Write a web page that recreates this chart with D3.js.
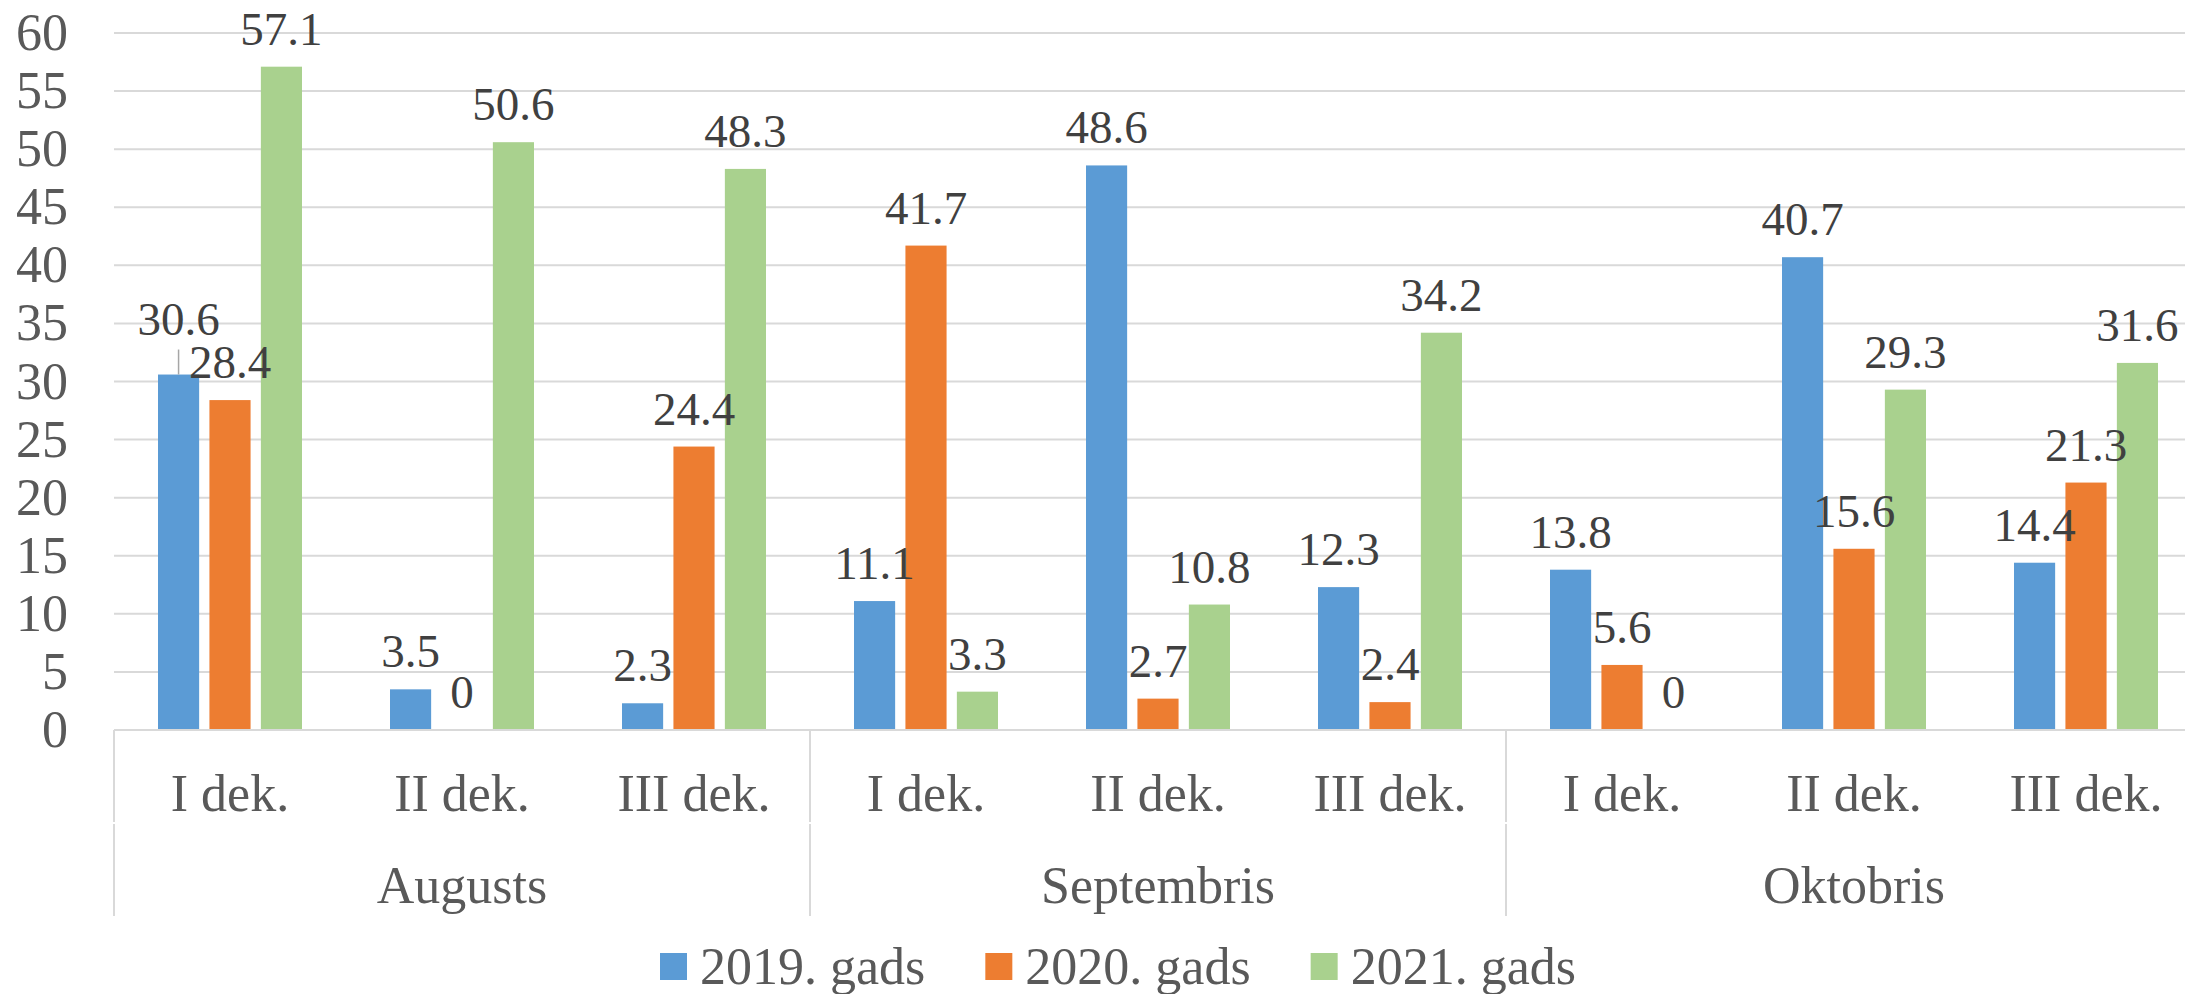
<!DOCTYPE html>
<html>
<head>
<meta charset="utf-8">
<script src="https://cdnjs.cloudflare.com/ajax/libs/d3/7.8.5/d3.min.js"></script>
<style>
    html, body { margin: 0; padding: 0; background: #ffffff; overflow: hidden; }
    svg { display: block; font-family: "Liberation Serif", "Times New Roman", serif; }
</style>
</head>
<body>
<div id="chart"></div>
<script>
// data
var months = ["Augusts", "Septembris", "Oktobris"];
var dekades = ["I dek.", "II dek.", "III dek."];
var seriesNames = ["2019. gads", "2020. gads", "2021. gads"];
var colors = ["#5B9BD5", "#ED7D31", "#A9D18E"];

var v2019 = [30.6, 3.5, 2.3, 11.1, 48.6, 12.3, 13.8, 40.7, 14.4];
var v2020 = [28.4, 0, 24.4, 41.7, 2.7, 2.4, 5.6, 15.6, 21.3];
var v2021 = [57.1, 50.6, 48.3, 3.3, 10.8, 34.2, 0, 29.3, 31.6];

var yTicks = [0, 5, 10, 15, 20, 25, 30, 35, 40, 45, 50, 55, 60];

var width = 2185, height = 994;

var svg = d3.select("#chart")
    .append("svg")
    .attr("width", width)
    .attr("height", height);

// plot is a bit wider than the picture, the right edge is cut off like in the original
var plotLeft = 114, plotRight = 2202;
var plotTop = 33, plotBottom = 730;

var catKeys = d3.range(months.length * dekades.length);

var x0 = d3.scaleBand()
    .domain(catKeys)
    .range([plotLeft, plotRight])
    .padding(0);

var x1 = d3.scaleBand()
    .domain(seriesNames)
    .range([44, x0.bandwidth() - 44])
    .paddingInner(0.2);

var y = d3.scaleLinear()
    .domain([0, 60])
    .range([plotBottom, plotTop]);

var mGroup = d3.scaleBand()
    .domain(months)
    .range([plotLeft, plotRight])
    .padding(0);

var gridColor = "#D9D9D9";
var textColor = "#595959";

// gridlines
svg.append("g")
    .selectAll("line")
    .data(yTicks.filter(function (d) { return d > 0; }))
    .enter()
    .append("line")
    .attr("x1", plotLeft)
    .attr("x2", width)
    .attr("y1", function (d) { return y(d); })
    .attr("y2", function (d) { return y(d); })
    .attr("stroke", gridColor)
    .attr("stroke-width", 2);

// y tick labels
svg.append("g")
    .selectAll("text")
    .data(yTicks)
    .enter()
    .append("text")
    .attr("x", 68)
    .attr("y", function (d) { return y(d) + 17; })
    .attr("text-anchor", "end")
    .attr("font-size", "52px")
    .attr("fill", textColor)
    .text(function (d) { return d; });

// build rows for the bars
var allValues = [v2019, v2020, v2021];
var rows = [];
catKeys.forEach(function (k) {
    seriesNames.forEach(function (s, si) {
        rows.push({ cat: k, series: s, si: si, value: allValues[si][k] });
    });
});

svg.append("g")
    .selectAll("rect")
    .data(rows)
    .enter()
    .append("rect")
    .attr("x", function (d) { return x0(d.cat) + x1(d.series); })
    .attr("y", function (d) { return y(d.value); })
    .attr("width", x1.bandwidth())
    .attr("height", function (d) { return y(0) - y(d.value); })
    .attr("fill", function (d) { return colors[d.si]; });

// x axis line
svg.append("line")
    .attr("x1", plotLeft)
    .attr("x2", width)
    .attr("y1", y(0))
    .attr("y2", y(0))
    .attr("stroke", gridColor)
    .attr("stroke-width", 2);

// data labels (the 2019 label of the first group is moved up with a leader line)
var labelLift = function (d) { return (d.cat === 0 && d.si === 0) ? 40 : 22; };

svg.append("g")
    .selectAll("line")
    .data(rows.filter(function (d) { return labelLift(d) > 22; }))
    .enter()
    .append("line")
    .attr("x1", function (d) { return x0(d.cat) + x1(d.series) + x1.bandwidth() / 2; })
    .attr("x2", function (d) { return x0(d.cat) + x1(d.series) + x1.bandwidth() / 2; })
    .attr("y1", function (d) { return y(d.value) - labelLift(d) + 15; })
    .attr("y2", function (d) { return y(d.value); })
    .attr("stroke", "#A6A6A6")
    .attr("stroke-width", 1.5);

svg.append("g")
    .selectAll("text")
    .data(rows)
    .enter()
    .append("text")
    .attr("x", function (d) { return x0(d.cat) + x1(d.series) + x1.bandwidth() / 2; })
    .attr("y", function (d) { return y(d.value) - labelLift(d); })
    .attr("text-anchor", "middle")
    .attr("font-size", "47px")
    .attr("fill", "#404040")
    .text(function (d) { return d.value; });

// first level labels
svg.append("g")
    .selectAll("text")
    .data(catKeys)
    .enter()
    .append("text")
    .attr("x", function (d) { return x0(d) + x0.bandwidth() / 2; })
    .attr("y", 811)
    .attr("text-anchor", "middle")
    .attr("font-size", "52px")
    .attr("fill", textColor)
    .text(function (d) { return dekades[d % dekades.length]; });

// second level labels
svg.append("g")
    .selectAll("text")
    .data(months)
    .enter()
    .append("text")
    .attr("x", function (d) { return mGroup(d) + mGroup.bandwidth() / 2; })
    .attr("y", 903)
    .attr("text-anchor", "middle")
    .attr("font-size", "52px")
    .attr("fill", textColor)
    .text(function (d) { return d; });

// separators between months (two levels, small break between them)
var sepX = months.map(function (m) { return mGroup(m); });
var sep = svg.append("g");
sepX.forEach(function (sx) {
    sep.append("line")
        .attr("x1", sx).attr("x2", sx)
        .attr("y1", y(0)).attr("y2", 822)
        .attr("stroke", gridColor).attr("stroke-width", 2);
    sep.append("line")
        .attr("x1", sx).attr("x2", sx)
        .attr("y1", 824).attr("y2", 916)
        .attr("stroke", gridColor).attr("stroke-width", 2);
});

// legend
var legend = svg.append("g");
var lx = 660;
seriesNames.forEach(function (s, i) {
    legend.append("rect")
        .attr("x", lx)
        .attr("y", 953)
        .attr("width", 27)
        .attr("height", 27)
        .attr("fill", colors[i]);
    var t = legend.append("text")
        .attr("x", lx + 40)
        .attr("y", 984)
        .attr("font-size", "52px")
        .attr("fill", textColor)
        .text(s);
    var w = t.node().getComputedTextLength();
    lx = lx + 40 + w + 60;
});
</script>
</body>
</html>
